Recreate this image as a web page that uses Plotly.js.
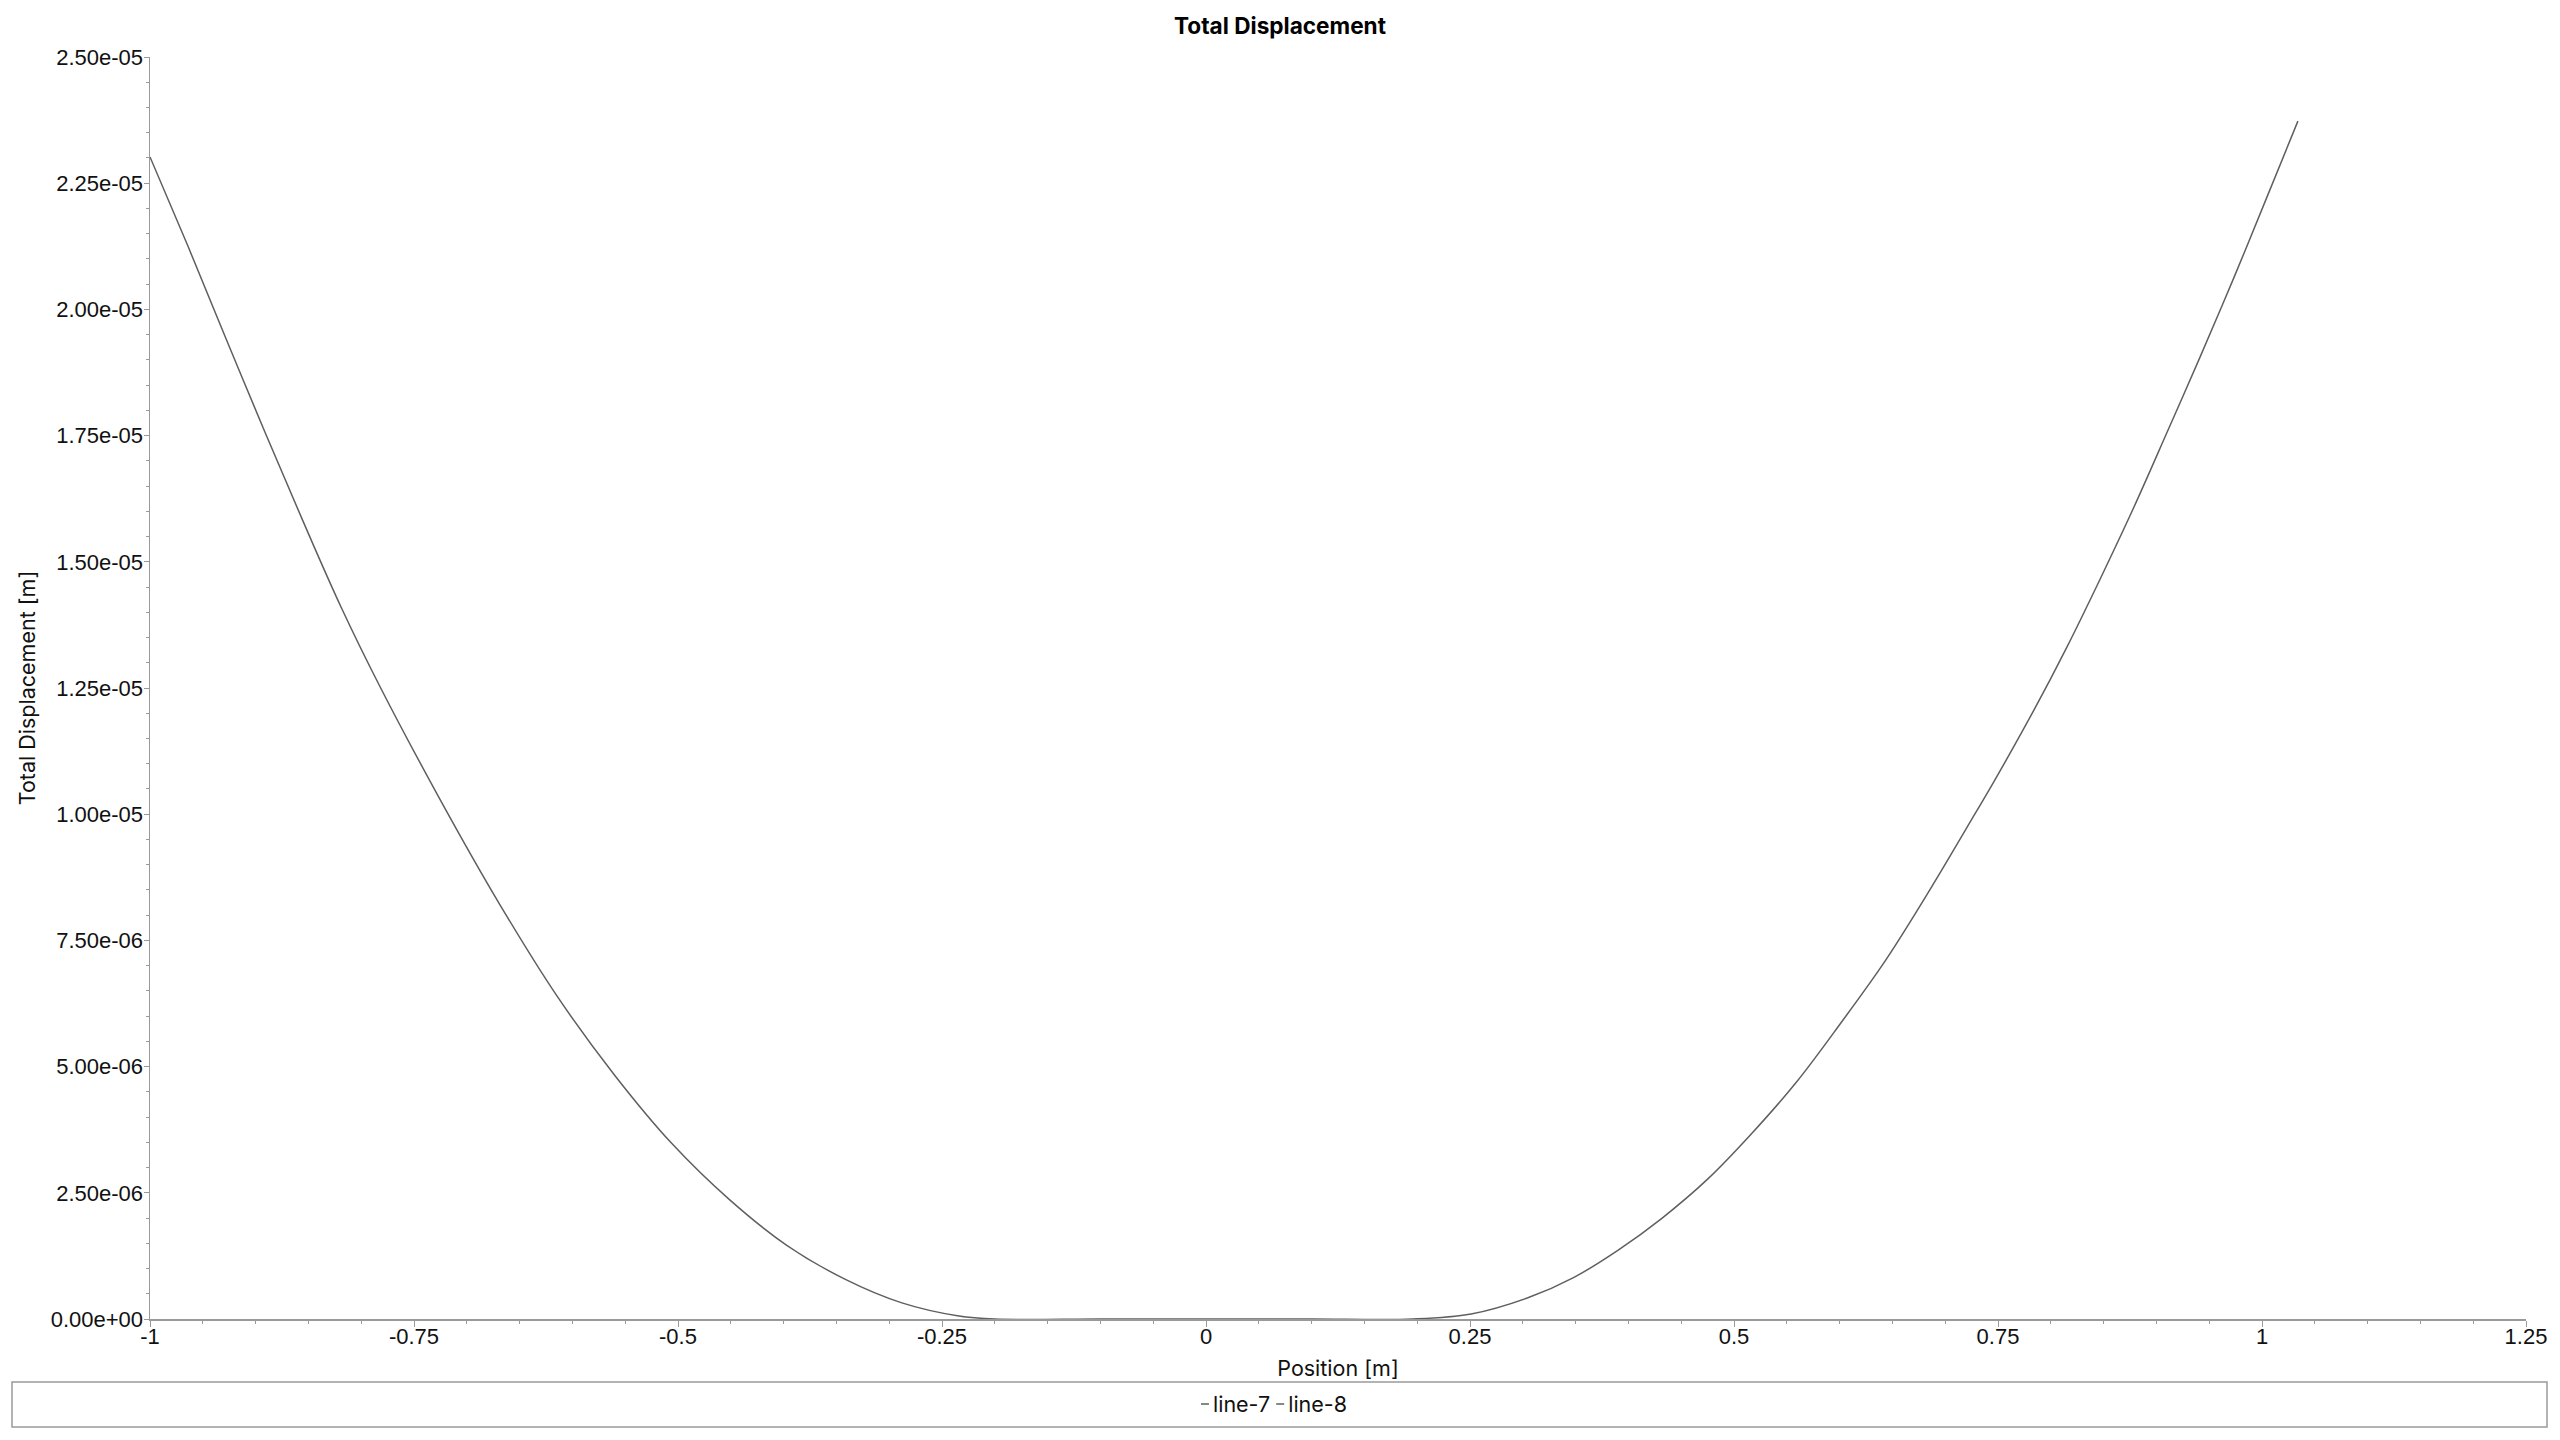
<!DOCTYPE html>
<html>
<head>
<meta charset="utf-8">
<script src="https://cdn.plot.ly/plotly-3.0.1.min.js"></script>
<style>
  html, body { margin: 0; padding: 0; background: #ffffff; }
  #chart { width: 2560px; height: 1440px; }
</style>
</head>
<body>
<div id="chart"></div>
<script>
// ---- data ----
const line7X = [-1.000, -0.964, -0.928, -0.891, -0.855, -0.819, -0.783, -0.725, -0.669, -0.614, -0.560, -0.506, -0.451, -0.397, -0.342, -0.288, -0.234, -0.200, -0.100, 0.000];
const line7Y = [2.302e-5, 2.125e-5, 1.942e-5, 1.756e-5, 1.580e-5, 1.410e-5, 1.256e-5, 1.028e-5, 8.22e-6, 6.38e-6, 4.83e-6, 3.48e-6, 2.36e-6, 1.46e-6, 7.9e-7, 3.2e-7, 6.0e-8, 0, 0, 0];

const line8X = [0.000, 0.100, 0.196, 0.251, 0.306, 0.348, 0.390, 0.432, 0.475, 0.517, 0.559, 0.601, 0.644, 0.686, 0.728, 0.746, 0.784, 0.815, 0.847, 0.878, 0.910, 0.941, 0.973, 1.004, 1.034];
const line8Y = [0, 0, 0, 1.0e-7, 4.3e-7, 8.2e-7, 1.36e-6, 2.00e-6, 2.77e-6, 3.68e-6, 4.69e-6, 5.86e-6, 7.12e-6, 8.52e-6, 1.000e-5, 1.064e-5, 1.206e-5, 1.330e-5, 1.467e-5, 1.605e-5, 1.756e-5, 1.904e-5, 2.061e-5, 2.219e-5, 2.373e-5];

const seriesNames = ['line-7', 'line-8'];

const xTickVals = [-1, -0.75, -0.5, -0.25, 0, 0.25, 0.5, 0.75, 1, 1.25];
const xTickText = ['-1', '-0.75', '-0.5', '-0.25', '0', '0.25', '0.5', '0.75', '1', '1.25'];
const yTickVals = [0, 2.5e-6, 5e-6, 7.5e-6, 1e-5, 1.25e-5, 1.5e-5, 1.75e-5, 2e-5, 2.25e-5, 2.5e-5];
const yTickText = ['0.00e+00', '2.50e-06', '5.00e-06', '7.50e-06', '1.00e-05', '1.25e-05', '1.50e-05', '1.75e-05', '2.00e-05', '2.25e-05', '2.50e-05'];

const chartTitle = 'Total Displacement';
const xTitle = 'Position [m]';
const yTitle = 'Total Displacement [m]';

// ---- styles ----
const lineColor = '#5f5f5f';
const axisColor = '#9a9a9a';
const tickFont = { family: 'Liberation Sans, Arial, sans-serif', size: 22, color: '#111111' };
const titleFont = { family: 'Inter, Roboto, sans-serif', size: 21.5, color: '#111111' };

const traces = [
  { x: line7X, y: line7Y, name: seriesNames[0], type: 'scatter', mode: 'lines',
    line: { color: lineColor, width: 1.5, shape: 'spline', smoothing: 1 } },
  { x: line8X, y: line8Y, name: seriesNames[1], type: 'scatter', mode: 'lines',
    line: { color: lineColor, width: 1.5, shape: 'spline', smoothing: 1 } }
];

const L = 150, R = 34, T = 57, B = 121;
const plotW = 2560 - L - R, plotH = 1440 - T - B;
const px2x = p => (p - L) / plotW;
const py2y = p => (1440 - B - p) / plotH;

const layout = {
  width: 2560, height: 1440,
  paper_bgcolor: '#ffffff', plot_bgcolor: '#ffffff',
  margin: { l: L, r: R, t: T, b: B, pad: 0 },
  title: { text: '<b>' + chartTitle + '</b>', x: 0.5, xref: 'container', xanchor: 'center',
           y: 1 - 26 / 1440, yref: 'container', yanchor: 'middle',
           font: { family: 'Inter, Roboto, sans-serif', size: 22.6, color: '#000000' } },
  showlegend: true,
  legend: {
    orientation: 'h', x: px2x(1274), xanchor: 'center', xref: 'paper',
    y: py2y(1404), yanchor: 'middle', yref: 'paper',
    bgcolor: 'rgba(0,0,0,0)', borderwidth: 0,
    font: titleFont, itemwidth: 30, itemclick: false, itemdoubleclick: false,
    tracegroupgap: 0
  },
  xaxis: {
    range: [-1, 1.25], showgrid: false, zeroline: false,
    showline: true, linecolor: axisColor, linewidth: 1.5,
    ticks: 'outside', ticklen: 6, tickcolor: axisColor, tickwidth: 1,
    ticklabelstandoff: -9,
    tickvals: xTickVals, ticktext: xTickText, tickfont: tickFont,
    minor: { ticks: 'outside', ticklen: 3, tickcolor: axisColor, dtick: 0.05, tick0: 0, showgrid: false },
    title: { text: xTitle, font: titleFont, standoff: 13 }
  },
  yaxis: {
    range: [0, 2.5e-5], showgrid: false, zeroline: false,
    showline: true, linecolor: axisColor, linewidth: 1.5,
    ticks: 'outside', ticklen: 5, tickcolor: axisColor, tickwidth: 1,
    ticklabelstandoff: -4,
    tickvals: yTickVals, ticktext: yTickText, tickfont: tickFont,
    minor: { ticks: 'outside', ticklen: 3, tickcolor: axisColor, dtick: 5e-7, tick0: 0, showgrid: false },
    title: { text: yTitle, font: titleFont, standoff: 8.5 }
  },
  shapes: [
    { type: 'rect', xref: 'paper', yref: 'paper',
      x0: px2x(12), x1: px2x(2547), y0: py2y(1427), y1: py2y(1382),
      line: { color: axisColor, width: 1.5 }, fillcolor: 'rgba(0,0,0,0)', layer: 'below' }
  ]
};

// Compact legend entries: short dash right before each label, as in the reference.
function compactLegend(gd) {
  const groups = Array.from(gd.querySelectorAll('.legend .traces'));
  if (!groups.length) return;
  const dashLen = 8, dashGap = 4, itemGap = 6;
  const items = groups.map(g => {
    const t = g.querySelector('text.legendtext');
    return { g, t, tx: parseFloat(t.getAttribute('x')) || 40, tw: t.getComputedTextLength() };
  });
  const total = items.reduce((s, d) => s + dashLen + dashGap + d.tw, 0) + itemGap * (items.length - 1);
  const centerX = 1274;
  let cursor = centerX - total / 2;
  items.forEach(d => {
    d.g.querySelectorAll('g.legendlines path').forEach(p => {
      p.setAttribute('d', 'M' + (d.tx - dashGap - dashLen) + ',0h' + dashLen);
    });
    const m = d.g.getScreenCTM();
    const desiredOrigin = cursor - (d.tx - dashGap - dashLen);
    const tr = d.g.getAttribute('transform') || 'translate(0,0)';
    const nums = tr.match(/-?[\d.]+(e-?\d+)?/g).map(Number);
    const nx = nums[0] + (desiredOrigin - m.e);
    d.g.setAttribute('transform', 'translate(' + nx + ',' + (nums[1] || 0) + ')');
    cursor += dashLen + dashGap + d.tw + itemGap;
  });
}

Plotly.newPlot('chart', traces, layout, { displayModeBar: false, staticPlot: true })
  .then(gd => compactLegend(gd));
</script>
</body>
</html>
